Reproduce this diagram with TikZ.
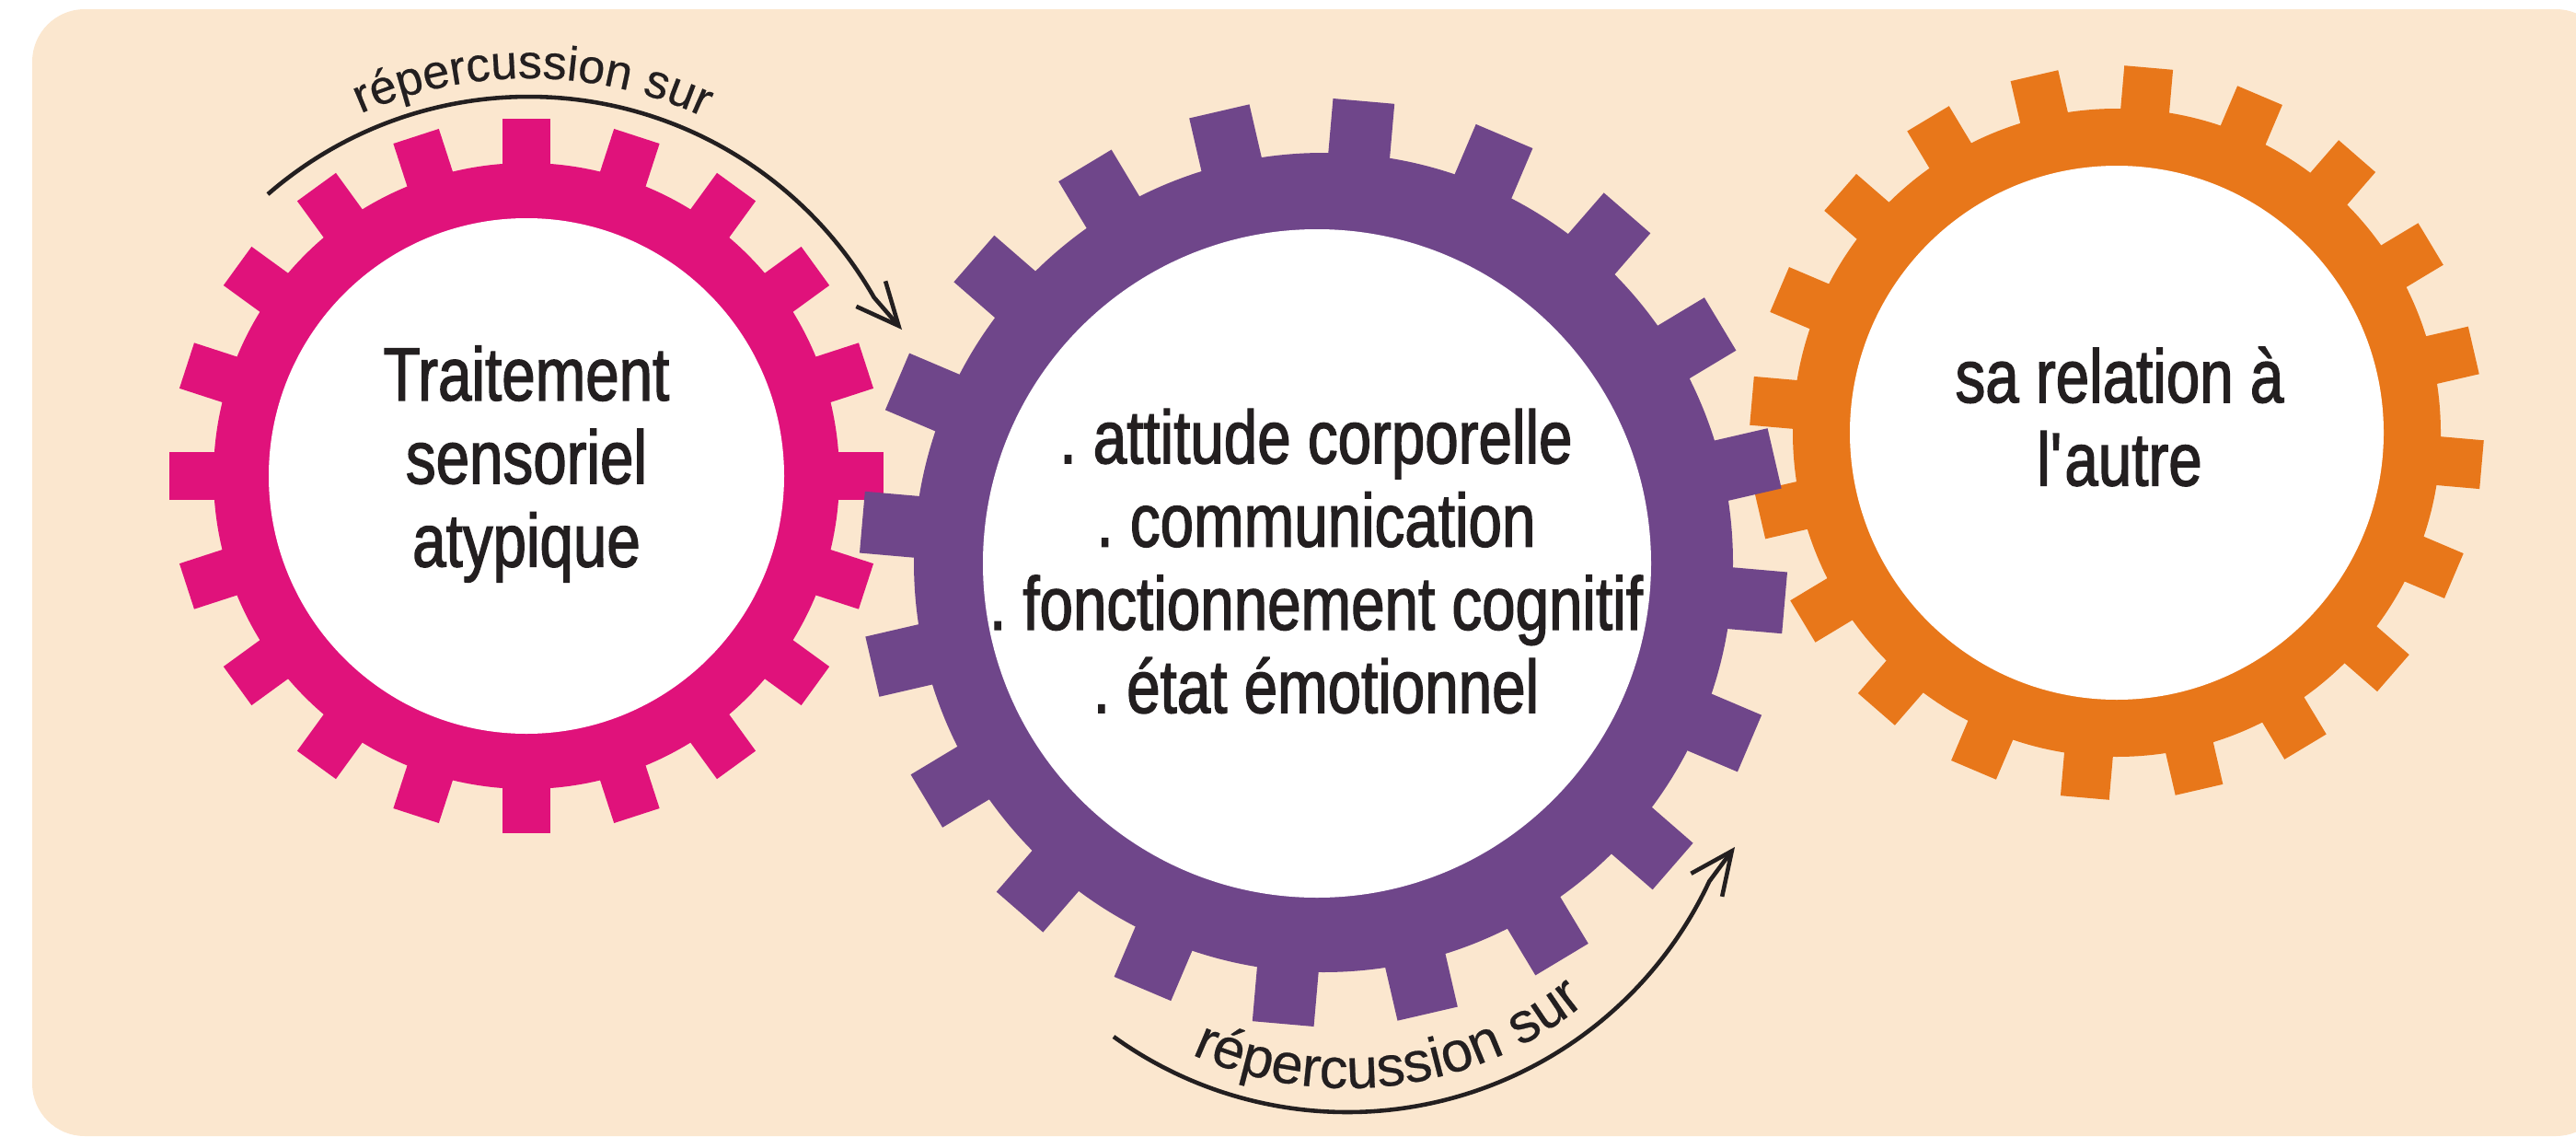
\documentclass[tikz,border=0pt]{standalone}
\usepackage{fontspec}
\usepackage{tikz}
\newfontfamily\gearfont{Liberation Sans}[FakeStretch=0.8,FakeBold=1.6]
\newfontfamily\arcfont{Liberation Sans}[FakeBold=0.4]
\definecolor{bgcream}{RGB}{251,231,207}
\definecolor{gearpink}{RGB}{224,18,123}
\definecolor{gearpurple}{RGB}{111,70,138}
\definecolor{gearorange}{RGB}{232,119,26}
\definecolor{ink}{RGB}{35,31,32}
\usetikzlibrary{arrows.meta}
\usetikzlibrary{calc,decorations.text}
\newcommand\upperarcfont{\arcfont\fontsize{14.8}{17}\selectfont\color{ink}}
\newcommand\lowerarcfont{\arcfont\fontsize{17.5}{20}\selectfont\color{ink}}

\begin{document}
\begin{tikzpicture}[
        gearlabel/.style={font=\gearfont\fontsize{23.3}{25.7}\selectfont\frenchspacing, text=ink, align=center, inner sep=0pt},
        flow/.style={ink, line width=1.3pt, -{Straight Barb[length=4.6mm,width=4.2mm,line width=1.3pt]}}
    ]

           \useasboundingbox (0,0) rectangle (27.99,12.34);
           \clip (0,0) rectangle (27.99,12.34);
           \fill [bgcream, rounded corners=0.57cm] (0.35,0) rectangle (28.34,12.24);

           \coordinate (orangeC) at (23.00,7.64);
           \coordinate (pinkC) at (5.72,7.17);
           \coordinate (purpleC) at (14.38,6.23);
           \coordinate (purpleW) at (14.31,6.22);

           \fill [gearorange] (orangeC) circle (3.52);
           \foreach \a in {13,31,...,355}
               \fill [gearorange, shift={(orangeC)}, rotate=\a] (3.30,-0.265) rectangle (3.98,0.265);
           \fill [white] (orangeC) circle (2.90);

           \fill [gearpink] (pinkC) circle (3.40);
           \foreach \a in {0,18,...,342}
               \fill [gearpink, shift={(pinkC)}, rotate=\a] (3.20,-0.26) rectangle (3.88,0.26);
           \fill [white] (pinkC) circle (2.80);

           \fill [gearpurple] (purpleC) circle (4.45);
           \foreach \a in {13,31,...,355}
               \fill [gearpurple, shift={(purpleC)}, rotate=\a] (4.20,-0.335) rectangle (5.03,0.335);
           \fill [white] (purpleW) circle (3.63);

           \node [gearlabel] (sensoryLbl) at (5.72,7.30) {Traitement\\sensoriel\\atypique};
           \node [gearlabel] (impactLbl) at (14.30,6.245) {. attitude corporelle\\. communication\\. fonctionnement cognitif\\. état émotionnel};
           \node [gearlabel] (relationLbl) at (23.03,7.815) {sa relation à\\l\textquotesingle autre};

           \coordinate (upperC) at (5.74,6.97);
           \coordinate (upperS) at (2.91,10.23);
           \coordinate (upperT) at (9.80,8.76);
           \draw [flow] (upperS) arc [start angle=131, end angle=29.7, radius=4.32] -- (upperT);
           \path [decorate, decoration={text along path, text align=center, text={|\upperarcfont|répercussion sur}}]
               ($(upperC)+(139.4:4.52)$) arc [start angle=139.4, end angle=39.4, radius=4.52];

           \coordinate (lowerC) at (14.64,4.60);
           \coordinate (lowerS) at (12.10,1.08);
           \coordinate (lowerT) at (18.85,3.14);
           \draw [flow] (lowerS) arc [start angle=234.2, end angle=335, radius=4.34] -- (lowerT);
           \path [decorate, decoration={text along path, text align=center, text={|\lowerarcfont|répercussion sur}}]
               ($(lowerC)+(227.4:4.08)$) arc [start angle=227.4, end angle=327.4, radius=4.08];

\end{tikzpicture}
\end{document}
